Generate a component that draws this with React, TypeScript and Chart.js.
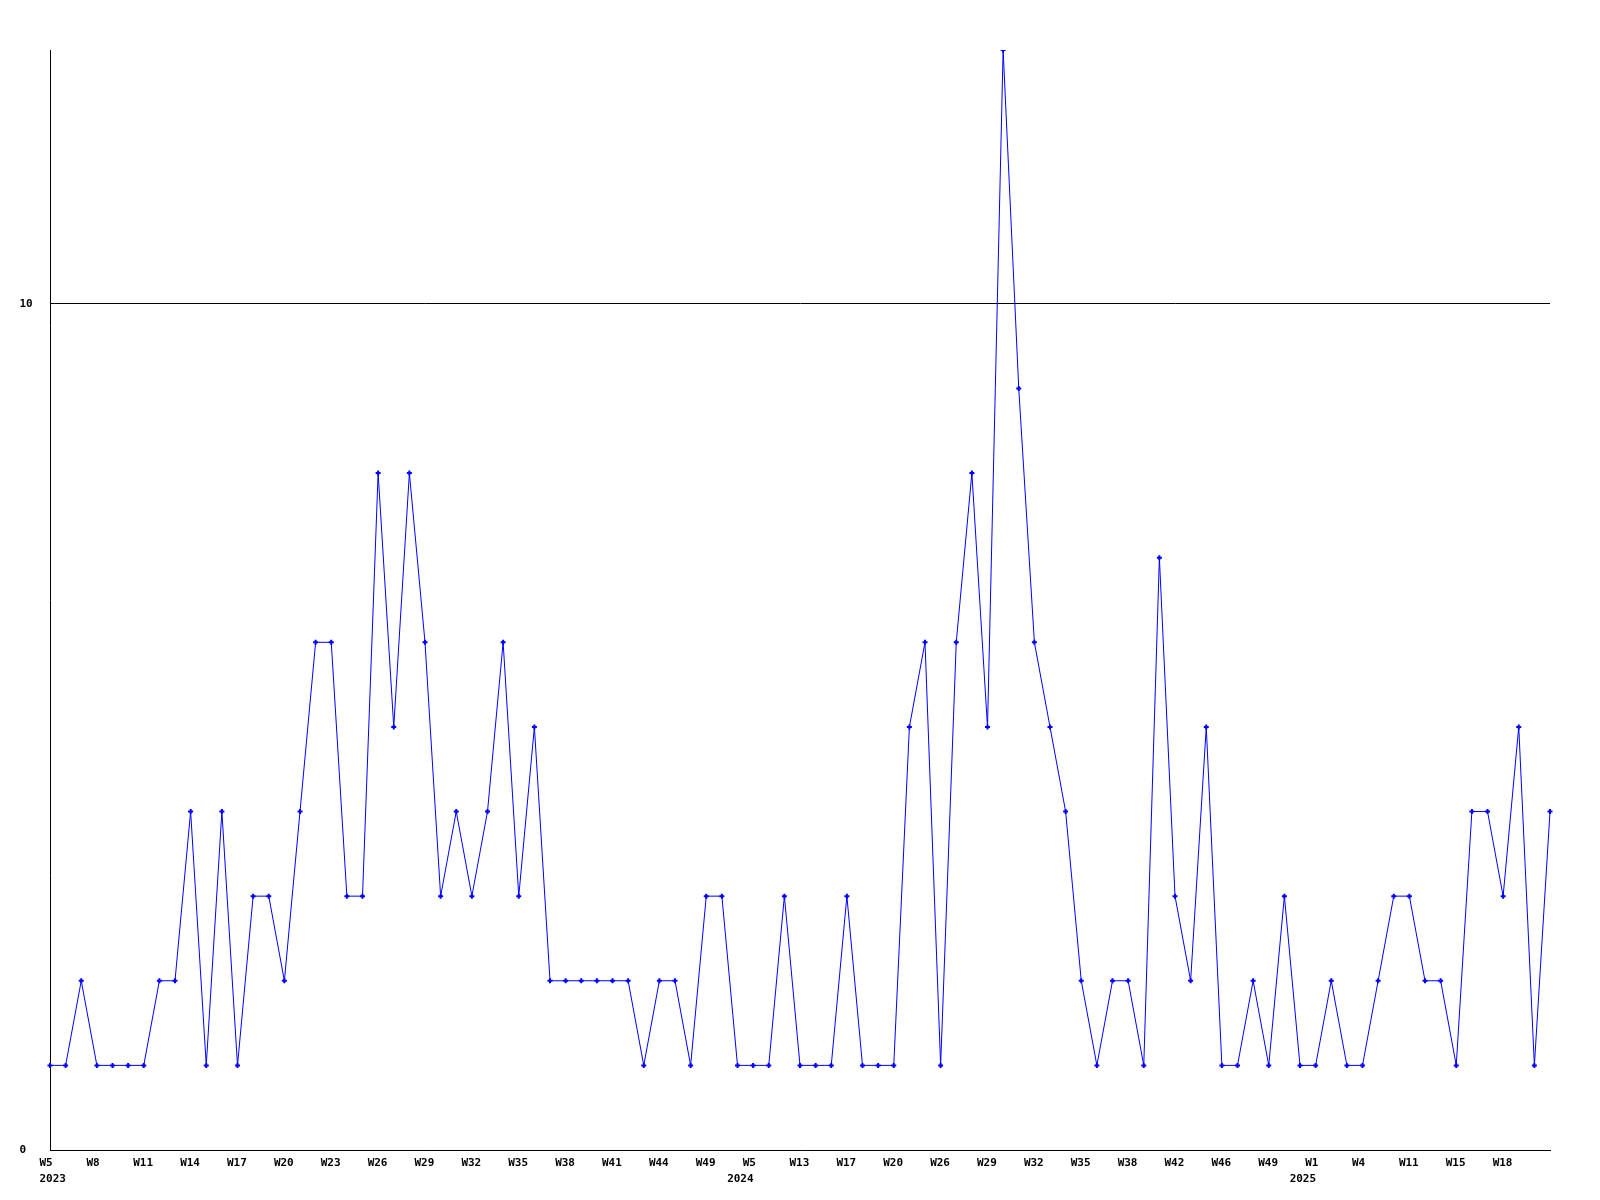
import React, { useEffect, useRef } from "react";
import { Chart, registerables } from "chart.js";

Chart.register(...registerables);

const weekLabels: string[] = [
  "W5", "W6", "W7", "W8", "W9", "W10", "W11", "W12", "W13", "W14",
  "W15", "W16", "W17", "W18", "W19", "W20", "W21", "W22", "W23", "W24",
  "W25", "W26", "W27", "W28", "W29", "W30", "W31", "W32", "W33", "W34",
  "W35", "W36", "W37", "W38", "W39", "W40", "W41", "W42", "W43", "W44",
  "W46", "W48", "W49", "W51", "W52", "W5", "W8", "W10", "W13", "W14",
  "W16", "W17", "W18", "W19", "W20", "W22", "W24", "W26", "W27", "W28",
  "W29", "W30", "W31", "W32", "W33", "W34", "W35", "W36", "W37", "W38",
  "W39", "W40", "W42", "W43", "W44", "W46", "W47", "W48", "W49", "W50",
  "W51", "W1", "W2", "W3", "W4", "W6", "W8", "W11", "W12", "W13",
  "W15", "W16", "W17", "W18", "W19", "W20", "W21",
];

const values: number[] = [
  1, 1, 2, 1, 1, 1, 1, 2, 2, 4,
  1, 4, 1, 3, 3, 2, 4, 6, 6, 3,
  3, 8, 5, 8, 6, 3, 4, 3, 4, 6,
  3, 5, 2, 2, 2, 2, 2, 2, 1, 2,
  2, 1, 3, 3, 1, 1, 1, 3, 1, 1,
  1, 3, 1, 1, 1, 5, 6, 1, 6, 8,
  5, 13, 9, 6, 5, 4, 2, 1, 2, 2,
  1, 7, 3, 2, 5, 1, 1, 2, 1, 3,
  1, 1, 2, 1, 1, 2, 3, 3, 2, 2,
  1, 4, 4, 3, 5, 1, 4,
];

const yearIndexes: number[] = [0, 45, 81];
const yearTexts: string[] = ["2023", "2024", "2025"];
const yTickValues: number[] = [0, 10];
const yMax = 13;

const FONT_FAMILY = "'DejaVu Sans Mono', 'Liberation Mono', monospace";

const yearPlugin = {
  id: "yearLabels",
  afterDraw(chart: any) {
    const { ctx } = chart;
    const xs = chart.scales.x;
    ctx.save();
    ctx.font = `bold 11px ${FONT_FAMILY}`;
    ctx.fillStyle = "#000";
    ctx.textAlign = "left";
    ctx.textBaseline = "middle";
    yearIndexes.forEach((idx, i) => {
      const px = xs.getPixelForValue(idx);
      const x = Math.max(px - 26, chart.chartArea.left - 10.5);
      ctx.fillText(yearTexts[i], x, 1179);
    });
    ctx.restore();
  },
};

export default function App() {
  const canvasRef = useRef<HTMLCanvasElement | null>(null);

  useEffect(() => {
    if (!canvasRef.current) return;
    const chart = new Chart(canvasRef.current, {
      type: "line",
      data: {
        labels: weekLabels,
        datasets: [
          {
            data: values,
            borderColor: "#0000ff",
            backgroundColor: "#0000ff",
            borderWidth: 1,
            tension: 0,
            pointStyle: "cross",
            pointRadius: 2.5,
            pointBorderWidth: 2,
            pointBorderColor: "#0000ff",
            pointHoverRadius: 2.5,
            fill: false,
          },
        ],
      },
      options: {
        animation: false,
        responsive: false,
        maintainAspectRatio: false,
        events: [],
        layout: { padding: { left: 19.5, top: 50, right: 50, bottom: 0 } },
        plugins: {
          legend: { display: false },
          tooltip: { enabled: false },
          title: { display: false },
        },
        scales: {
          x: {
            type: "category",
            offset: false,
            grid: { color: "rgba(0,0,0,0)", drawTicks: false },
            border: { display: true, color: "#000", width: 1 },
            ticks: {
              autoSkip: false,
              maxRotation: 0,
              minRotation: 0,
              align: "start",
              labelOffset: -10.5,
              padding: 7,
              color: "#000",
              font: { family: FONT_FAMILY, size: 11, weight: "bold" },
              callback: (_v: any, i: number) =>
                i % 3 === 0 && i < weekLabels.length - 1 ? weekLabels[i] : null,
            },
            afterFit: (scale: any) => {
              scale.height = 50;
            },
          },
          y: {
            type: "linear",
            min: 0,
            max: yMax,
            grid: { color: "#000", lineWidth: 1, drawTicks: false },
            border: { display: true, color: "#000", width: 1 },
            ticks: {
              crossAlign: "far",
              padding: 0,
              color: "#000",
              font: { family: FONT_FAMILY, size: 11, weight: "bold" },
            },
            afterBuildTicks: (scale: any) => {
              scale.ticks = yTickValues.map((v) => ({ value: v }));
            },
            afterFit: (scale: any) => {
              scale.width = 30.5;
            },
          },
        },
      },
      plugins: [yearPlugin],
    } as any);
    return () => chart.destroy();
  }, []);

  return (
    <div style={{ position: "absolute", left: 0, top: 0, width: 1600, height: 1200, background: "#fff" }}>
      <canvas ref={canvasRef} width={1600} height={1200} style={{ display: "block" }} />
    </div>
  );
}
